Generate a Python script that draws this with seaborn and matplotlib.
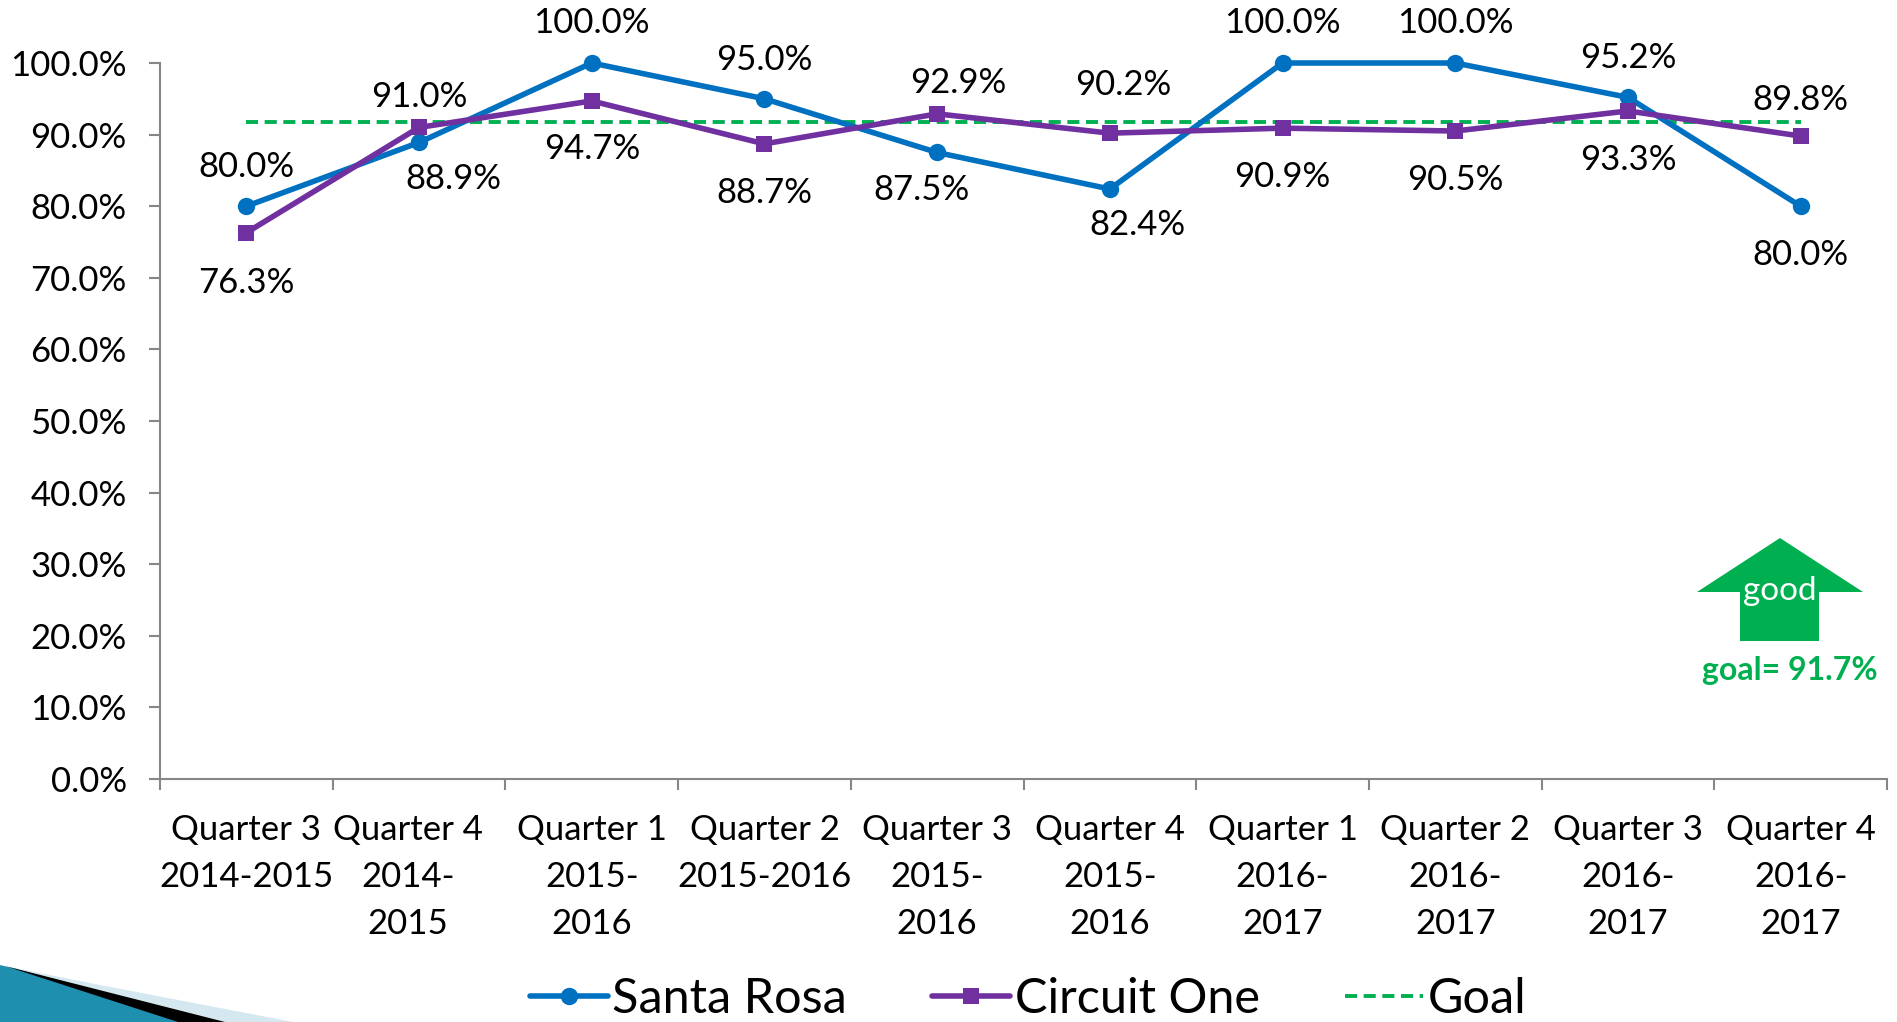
import matplotlib
matplotlib.use('Agg')
import matplotlib.pyplot as plt
from matplotlib.patches import Polygon
from matplotlib.transforms import ScaledTranslation
import numpy as np
import pandas as pd
import seaborn as sns

# data
quarters = ['Quarter 3\n2014-2015', 'Quarter 4\n2014-\n2015', 'Quarter 1\n2015-\n2016', 'Quarter 2\n2015-2016',
            'Quarter 3\n2015-\n2016', 'Quarter 4\n2015-\n2016', 'Quarter 1\n2016-\n2017', 'Quarter 2\n2016-\n2017',
            'Quarter 3\n2016-\n2017', 'Quarter 4\n2016-\n2017']
santa_rosa = [80.0, 88.9, 100.0, 95.0, 87.5, 82.4, 100.0, 100.0, 95.2, 80.0]
circuit_one = [76.3, 91.0, 94.7, 88.7, 92.9, 90.2, 90.9, 90.5, 93.3, 89.8]
goal = [91.7] * 10
y_ticks = [0, 10, 20, 30, 40, 50, 60, 70, 80, 90, 100]

# label offsets from the point, in pixels (x right, y up)
santa_off = [(0, 39), (34, -37), (0, 40), (0, 39), (-16, -38), (28, -36), (0, 40), (0, 40), (0, 39), (0, -49)]
circuit_off = [(0, -50), (0, 30), (0, -48), (0, -49), (21, 31), (13, 48), (0, -49), (0, -49), (0, -49), (0, 36)]

BLUE = '#0070C0'
PURPLE = '#7030A0'
GREEN = '#00B050'
W, H = 1897, 1022

sns.set_theme(style='white')
plt.rcParams['font.family'] = ['Lato', 'DejaVu Sans']

df = pd.DataFrame({'quarter': quarters, 'Santa Rosa': santa_rosa, 'Circuit One': circuit_one, 'Goal': goal})

fig = plt.figure(figsize=(W / 100, H / 100), dpi=100, facecolor='white')
ax = fig.add_axes([160 / W, 1 - 779 / H, 1727 / W, 716 / H])

sns.lineplot(data=df, x='quarter', y='Goal', ax=ax, color=GREEN, lw=2.8, sort=False,
             dashes=False, label='Goal', zorder=2)
ax.lines[-1].set_dashes((3.1, 1.7))
sns.lineplot(data=df, x='quarter', y='Santa Rosa', ax=ax, color=BLUE, lw=4, marker='o', markersize=12.5,
             markeredgewidth=0, sort=False, label='Santa Rosa', zorder=3, clip_on=False)
sns.lineplot(data=df, x='quarter', y='Circuit One', ax=ax, color=PURPLE, lw=4, marker='s', markersize=12,
             markeredgewidth=0, sort=False, label='Circuit One', zorder=4, clip_on=False)

ax.set_xlim(-0.5, 9.5)
ax.set_ylim(0, 100)
ax.set_xlabel('')
ax.set_ylabel('')
ax.set_yticks(y_ticks)
ax.set_yticklabels(['%.1f%%' % v for v in y_ticks])
ax.set_xticks(np.arange(-0.5, 10, 1), minor=True)

for side in ['top', 'right']:
    ax.spines[side].set_visible(False)
for side in ['left', 'bottom']:
    ax.spines[side].set_color('#868686')
    ax.spines[side].set_linewidth(1.5)
ax.tick_params(axis='y', which='major', left=True, length=8, width=1.5, color='#868686', labelsize=25,
               labelcolor='black', pad=16)
ax.tick_params(axis='x', which='major', bottom=False, labelsize=25, labelcolor='black', pad=19)
ax.tick_params(axis='x', which='minor', bottom=True, length=8, width=1.5, color='#868686')
for t in ax.get_xticklabels():
    t.set_linespacing(1.58)
# second label sits left of its tick in the original
lab = ax.get_xticklabels()[1]
lab.set_transform(lab.get_transform() + ScaledTranslation(-11 / 100, 0, fig.dpi_scale_trans))

# data labels
for vals, offs in [(santa_rosa, santa_off), (circuit_one, circuit_off)]:
    for i, v in enumerate(vals):
        ax.annotate('%.1f%%' % v, (i, v), xytext=offs[i], textcoords='offset pixels', ha='center',
                    va='center', fontsize=25, color='black', annotation_clip=False, zorder=6)

# legend
handles, labels = ax.get_legend_handles_labels()
order = [labels.index(n) for n in ['Santa Rosa', 'Circuit One', 'Goal']]
fig.legend([handles[i] for i in order], [labels[i] for i in order], ncol=3, frameon=False, fontsize=35,
           handlelength=1.6, handletextpad=0.1, columnspacing=1.75, loc='center',
           bbox_to_anchor=(1028 / W, 1 - 999 / H), labelcolor='black', borderpad=0)
ax.get_legend().remove()


def px(points):
    return [(x / W, 1 - y / H) for x, y in points]


# good arrow + goal note
fig.add_artist(Polygon(px([(1780, 538), (1863, 592), (1819, 592), (1819, 641), (1740, 641), (1740, 592), (1697, 592)]),
                       closed=True, fc=GREEN, ec='none', transform=fig.transFigure))
fig.text(1780 / W, 1 - 591 / H, 'good', color='white', fontsize=24, ha='center', va='center')
fig.text(1790 / W, 1 - 670 / H, 'goal= 91.7%', color=GREEN, fontsize=23, fontweight='bold', ha='center', va='center')

# slide corner decoration
fig.add_artist(Polygon(px([(0, 965), (100, 985), (293, 1022), (200, 1022)]), closed=True, fc='#D5E8EF', ec='none',
                       transform=fig.transFigure))
fig.add_artist(Polygon(px([(0, 965), (217, 1022), (0, 1022)]), closed=True, fc='#1F8FB0', ec='none',
                       transform=fig.transFigure))
fig.add_artist(Polygon(px([(5, 966), (225, 1022), (178, 1022)]), closed=True, fc='black', ec='none',
                       transform=fig.transFigure))

fig.savefig('out.png', dpi=100, facecolor='white')
